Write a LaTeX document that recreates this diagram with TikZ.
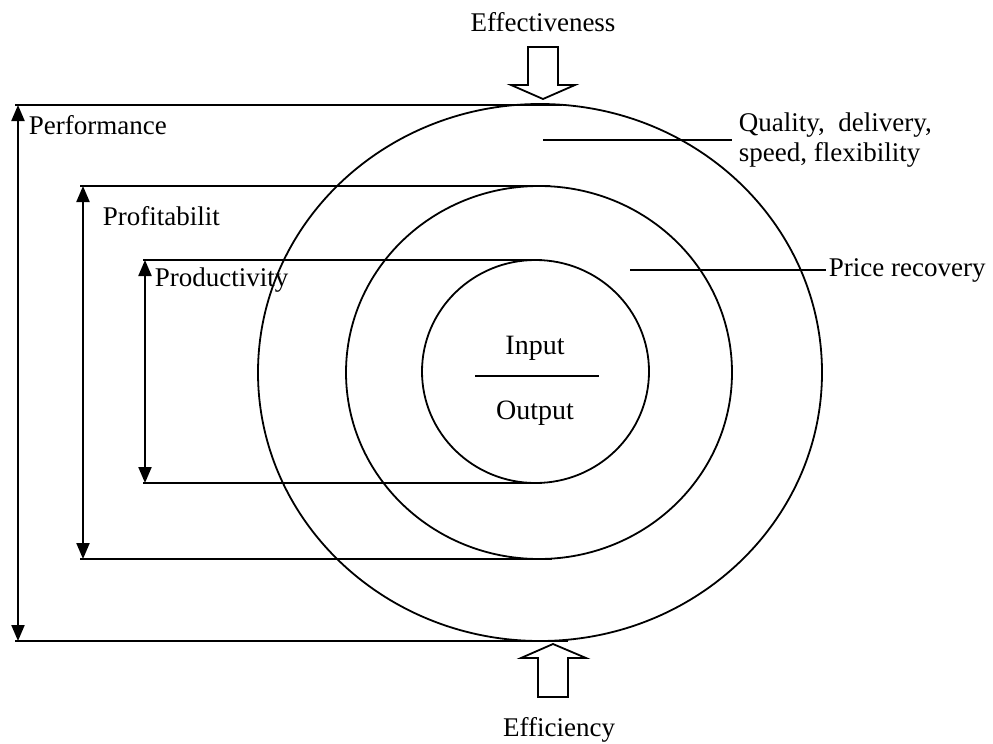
\documentclass[tikz,border=0pt]{standalone}
\usepackage{fontspec}
\setmainfont{Liberation Serif}
\usetikzlibrary{arrows.meta}
\begin{document}
\begin{tikzpicture}[x=1pt, y=-1pt, line width=1.8pt, line join=miter,
    txt/.style={inner sep=2pt, font=\fontsize{27}{30}\selectfont},
    span/.style={line width=2.2pt, {Triangle[length=16pt, width=13pt]}-{Triangle[length=16pt, width=13pt]}}]
  \useasboundingbox (0,0) rectangle (993,744);
  % rings
  \draw (540,372.5) ellipse [x radius=282pt, y radius=268.5pt];
  \draw (539,372.5) ellipse [x radius=193pt, y radius=186.5pt];
  \draw (535.5,371.5) ellipse [x radius=113.5pt, y radius=111.5pt];
  % ends of the spans
  \coordinate (perfT) at (18,105); \coordinate (perfB) at (18,641);
  \coordinate (profT) at (83,186); \coordinate (profB) at (83,559);
  \coordinate (prodT) at (145,260); \coordinate (prodB) at (145,483);
  \coordinate (qfoot) at (543,140); \coordinate (pfoot) at (630,270);
  \begin{scope}[every node/.style={txt}]
    \node (eff) at (543,22) {Effectiveness};
    \node (effi) at (559,730) {Efficiency};
    \node [anchor=west] (perf) at (26,125) {Performance};
    \node [anchor=west] (prof) at (100,216) {Profitabilit};
    \node [anchor=west] (prod) at (152,280) {Productivity};
    \node [anchor=west, align=left, inner xsep=6pt] (qual) at (732,140)
      {Quality, \ delivery,\\speed, flexibility};
    \node [anchor=west] (price) at (826,270) {Price recovery};
    \node [font=\fontsize{28}{30}\selectfont] (in) at (535,348) {Input};
    \node [font=\fontsize{28}{30}\selectfont] (out) at (535,413) {Output};
  \end{scope}
  % fraction bar and leaders
  \draw (475,376) -- (599,376);
  \draw (qfoot) -- (qual.west);
  \draw (pfoot) -- (price.west);
  % horizontal limits
  \draw (15,105) -- (562,105);
  \draw (80,186) -- (550,186);
  \draw (143,260) -- (542,260);
  \draw (143,483) -- (542,483);
  \draw (80,559) -- (552,559);
  \draw (15,641) -- (568,641);
  % spans
  \draw [span] (perfT) -- (perfB);
  \draw [span] (profT) -- (profB);
  \draw [span] (prodT) -- (prodB);
  % block arrows
  \draw (528,47) -- (558,47) -- (558,85) -- (575,85) -- (543,99)
    -- (511,85) -- (528,85) -- cycle;
  \draw (538,697) -- (568,697) -- (568,658) -- (586,658) -- (553,644)
    -- (521,658) -- (538,658) -- cycle;
\end{tikzpicture}
\end{document}
